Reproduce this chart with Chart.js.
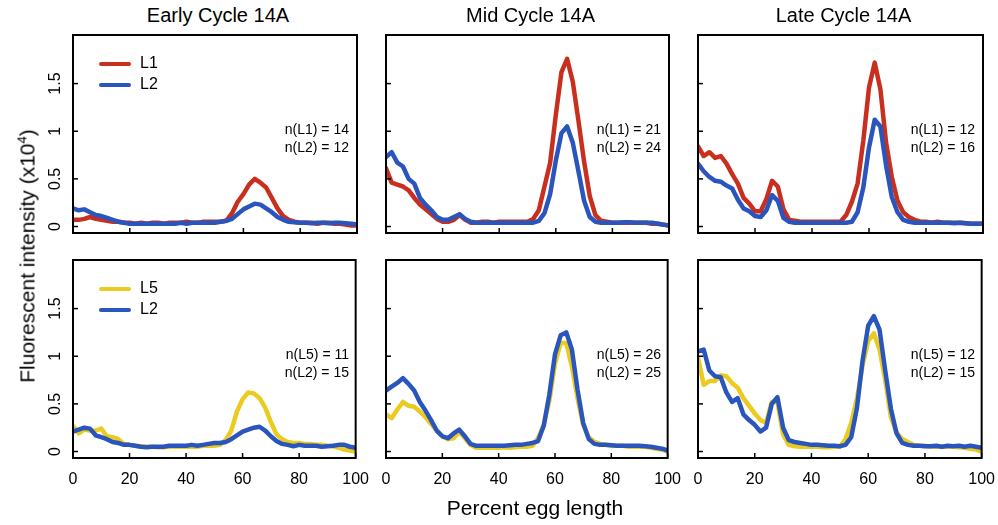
<!DOCTYPE html>
<html>
<head>
<meta charset="utf-8">
<script src="https://cdn.jsdelivr.net/npm/chart.js@4.4.1/dist/chart.umd.min.js"></script>
<style>
body { margin: 0; background: #fff; font-family: "Liberation Sans", Arial, sans-serif; }
#wrap { position: relative; width: 998px; height: 525px; overflow: hidden; }
canvas { position: absolute; }
.txt { position: absolute; white-space: nowrap; color: #000; }
.title { font-size: 20px; transform: translateX(-50%); }
.nlab { font-size: 14px; text-align: right; line-height: 18px; }
.leg { font-size: 16px; line-height: 21px; }
.leg span { display: inline-block; width: 32px; height: 4px; border-radius: 2px; vertical-align: middle; margin-right: 9px; }
</style>
</head>
<body>
<div id="wrap"></div>
<script>
// percent egg length positions
var pos = [0, 2, 4, 6, 8, 10, 12, 14, 16, 18, 20, 22, 24, 26, 28, 30, 32, 34, 36, 38, 40, 42, 44, 46, 48, 50,
    52, 54, 56, 58, 60, 62, 64, 66, 68, 70, 72, 74, 76, 78, 80, 82, 84, 86, 88, 90, 92, 94, 96, 98, 100];

// top row: L1 vs L2
var earlyL1 = [0.07, 0.07, 0.08, 0.10, 0.08, 0.07, 0.06, 0.05, 0.05, 0.04, 0.04, 0.03, 0.04, 0.03, 0.04, 0.04, 0.03, 0.04, 0.04, 0.04, 0.05, 0.04, 0.04, 0.05, 0.05, 0.05,
    0.05, 0.06, 0.14, 0.26, 0.34, 0.44, 0.50, 0.46, 0.41, 0.30, 0.19, 0.11, 0.07, 0.05, 0.04, 0.04, 0.04, 0.03, 0.04, 0.04, 0.03, 0.03, 0.02, 0.01, 0.01];
var earlyL2a = [0.19, 0.17, 0.18, 0.15, 0.12, 0.11, 0.09, 0.07, 0.05, 0.04, 0.03, 0.03, 0.03, 0.03, 0.03, 0.03, 0.03, 0.03, 0.03, 0.04, 0.03, 0.04, 0.04, 0.04, 0.04, 0.04,
    0.05, 0.06, 0.08, 0.13, 0.18, 0.21, 0.24, 0.23, 0.19, 0.15, 0.10, 0.07, 0.05, 0.045, 0.04, 0.04, 0.035, 0.04, 0.04, 0.035, 0.04, 0.04, 0.035, 0.03, 0.02];
var midL1 = [0.61, 0.46, 0.44, 0.42, 0.38, 0.30, 0.23, 0.18, 0.13, 0.08, 0.05, 0.05, 0.07, 0.12, 0.07, 0.04, 0.04, 0.05, 0.05, 0.04, 0.05, 0.05, 0.05, 0.05, 0.05, 0.05,
    0.08, 0.17, 0.42, 0.67, 1.17, 1.62, 1.76, 1.52, 1.11, 0.68, 0.32, 0.12, 0.06, 0.05, 0.04, 0.04, 0.04, 0.04, 0.04, 0.04, 0.04, 0.03, 0.03, 0.02, 0.01];
var midL2a = [0.73, 0.78, 0.67, 0.63, 0.50, 0.45, 0.30, 0.23, 0.17, 0.10, 0.07, 0.07, 0.10, 0.13, 0.08, 0.05, 0.04, 0.04, 0.04, 0.04, 0.04, 0.04, 0.04, 0.04, 0.04, 0.04,
    0.04, 0.06, 0.14, 0.34, 0.69, 0.98, 1.05, 0.88, 0.58, 0.27, 0.10, 0.05, 0.04, 0.04, 0.04, 0.04, 0.045, 0.045, 0.04, 0.04, 0.04, 0.04, 0.03, 0.02, 0.01];
var lateL1 = [0.84, 0.74, 0.78, 0.72, 0.74, 0.66, 0.55, 0.45, 0.30, 0.24, 0.16, 0.16, 0.29, 0.48, 0.42, 0.18, 0.07, 0.06, 0.05, 0.05, 0.05, 0.05, 0.05, 0.05, 0.05, 0.05,
    0.12, 0.26, 0.45, 0.90, 1.46, 1.72, 1.44, 0.88, 0.52, 0.27, 0.15, 0.10, 0.07, 0.05, 0.05, 0.04, 0.05, 0.04, 0.04, 0.04, 0.04, 0.035, 0.03, 0.03, 0.03];
var lateL2a = [0.66, 0.58, 0.52, 0.48, 0.47, 0.43, 0.40, 0.28, 0.19, 0.16, 0.11, 0.10, 0.17, 0.33, 0.27, 0.09, 0.05, 0.04, 0.04, 0.04, 0.04, 0.04, 0.04, 0.04, 0.04, 0.04,
    0.04, 0.05, 0.15, 0.41, 0.83, 1.12, 1.05, 0.64, 0.31, 0.15, 0.07, 0.05, 0.04, 0.04, 0.04, 0.04, 0.04, 0.04, 0.04, 0.035, 0.04, 0.035, 0.03, 0.03, 0.03];

// bottom row: L5 vs L2
var earlyL5 = [0.27, 0.19, 0.23, 0.22, 0.22, 0.24, 0.16, 0.15, 0.13, 0.08, 0.07, 0.06, 0.055, 0.05, 0.05, 0.045, 0.045, 0.05, 0.05, 0.05, 0.05, 0.05, 0.05, 0.06, 0.06, 0.06,
    0.07, 0.12, 0.22, 0.42, 0.55, 0.62, 0.61, 0.56, 0.46, 0.31, 0.18, 0.13, 0.10, 0.09, 0.09, 0.08, 0.08, 0.07, 0.07, 0.06, 0.055, 0.04, 0.02, 0.01, 0.0];
var earlyL2b = [0.21, 0.23, 0.25, 0.24, 0.17, 0.15, 0.13, 0.10, 0.09, 0.07, 0.07, 0.06, 0.05, 0.045, 0.05, 0.05, 0.05, 0.06, 0.06, 0.06, 0.06, 0.07, 0.06, 0.07, 0.08, 0.09,
    0.09, 0.10, 0.13, 0.17, 0.21, 0.23, 0.25, 0.26, 0.22, 0.16, 0.11, 0.08, 0.07, 0.055, 0.07, 0.06, 0.06, 0.06, 0.05, 0.055, 0.06, 0.07, 0.07, 0.05, 0.04];
var midL5 = [0.39, 0.35, 0.44, 0.52, 0.48, 0.47, 0.42, 0.36, 0.29, 0.22, 0.16, 0.13, 0.14, 0.21, 0.14, 0.07, 0.04, 0.04, 0.04, 0.04, 0.04, 0.045, 0.04, 0.045, 0.05, 0.05,
    0.06, 0.14, 0.28, 0.53, 0.92, 1.14, 1.14, 0.89, 0.56, 0.28, 0.15, 0.10, 0.08, 0.07, 0.06, 0.06, 0.06, 0.05, 0.05, 0.05, 0.05, 0.04, 0.03, 0.02, 0.0];
var midL2b = [0.64, 0.68, 0.72, 0.77, 0.71, 0.64, 0.52, 0.43, 0.33, 0.22, 0.16, 0.14, 0.19, 0.23, 0.16, 0.08, 0.06, 0.06, 0.06, 0.06, 0.06, 0.06, 0.065, 0.07, 0.07, 0.08,
    0.09, 0.11, 0.27, 0.60, 1.02, 1.22, 1.25, 1.07, 0.65, 0.30, 0.13, 0.08, 0.07, 0.07, 0.065, 0.06, 0.06, 0.06, 0.06, 0.06, 0.055, 0.05, 0.04, 0.03, 0.01];
var lateL5 = [0.99, 0.70, 0.74, 0.74, 0.80, 0.79, 0.72, 0.67, 0.56, 0.48, 0.40, 0.33, 0.30, 0.52, 0.52, 0.18, 0.07, 0.055, 0.05, 0.05, 0.05, 0.05, 0.045, 0.045, 0.05, 0.05,
    0.13, 0.30, 0.55, 0.90, 1.16, 1.24, 1.07, 0.75, 0.36, 0.20, 0.13, 0.10, 0.07, 0.06, 0.06, 0.05, 0.05, 0.05, 0.05, 0.05, 0.045, 0.04, 0.03, 0.02, 0.0];
var lateL2b = [1.05, 1.07, 0.85, 0.79, 0.78, 0.62, 0.52, 0.56, 0.39, 0.33, 0.28, 0.21, 0.25, 0.50, 0.57, 0.25, 0.12, 0.10, 0.09, 0.08, 0.07, 0.07, 0.065, 0.06, 0.06, 0.056,
    0.07, 0.15, 0.45, 0.95, 1.32, 1.42, 1.28, 0.85, 0.45, 0.19, 0.09, 0.07, 0.06, 0.06, 0.055, 0.055, 0.06, 0.05, 0.06, 0.055, 0.06, 0.05, 0.06, 0.05, 0.04];

var titles = ['Early Cycle 14A', 'Mid Cycle 14A', 'Late Cycle 14A'];
var topNames = ['L1', 'L2'];
var bottomNames = ['L5', 'L2'];
var topCounts = [[14, 12], [21, 24], [12, 16]];
var bottomCounts = [[11, 15], [26, 25], [12, 15]];
var xTicks = [0, 20, 40, 60, 80, 100];
var yTicks = [0, 0.5, 1, 1.5];

var red = '#c92f1f', blue = '#2a55bd', yellow = '#ebcb1f';

var panels = [
    { row: 0, col: 0, series: [earlyL1, earlyL2a], names: topNames, counts: topCounts[0], colors: [red, blue] },
    { row: 0, col: 1, series: [midL1, midL2a], names: topNames, counts: topCounts[1], colors: [red, blue] },
    { row: 0, col: 2, series: [lateL1, lateL2a], names: topNames, counts: topCounts[2], colors: [red, blue] },
    { row: 1, col: 0, series: [earlyL5, earlyL2b], names: bottomNames, counts: bottomCounts[0], colors: [yellow, blue] },
    { row: 1, col: 1, series: [midL5, midL2b], names: bottomNames, counts: bottomCounts[1], colors: [yellow, blue] },
    { row: 1, col: 2, series: [lateL5, lateL2b], names: bottomNames, counts: bottomCounts[2], colors: [yellow, blue] }
];

var boxLeft = [73, 386, 698], boxW = [284, 283, 285];
var boxTop = [35, 260], boxH = 198;
var padL = 60, padT = 6, padR = 24, padB = 45;

// frame + inward tick marks + rotated y labels (first column)
var framePlugin = {
    id: 'frame',
    afterDraw: function (chart) {
        var ctx = chart.ctx, a = chart.chartArea, sx = chart.scales.x, sy = chart.scales.y;
        ctx.save();
        ctx.strokeStyle = '#000';
        ctx.lineWidth = 2;
        ctx.strokeRect(a.left, a.top, a.right - a.left, a.bottom - a.top);
        ctx.lineWidth = 1.5;
        sx.ticks.forEach(function (t) {
            var px = sx.getPixelForValue(t.value);
            ctx.beginPath(); ctx.moveTo(px, a.bottom); ctx.lineTo(px, a.bottom - 5); ctx.stroke();
        });
        sy.ticks.forEach(function (t) {
            var py = sy.getPixelForValue(t.value);
            ctx.beginPath(); ctx.moveTo(a.left, py); ctx.lineTo(a.left + 5, py); ctx.stroke();
        });
        if (chart.options.plugins.frame.yLabels) {
            ctx.fillStyle = '#000';
            ctx.font = '16px "Liberation Sans", Arial, sans-serif';
            ctx.textAlign = 'center';
            ctx.textBaseline = 'middle';
            sy.ticks.forEach(function (t) {
                var py = sy.getPixelForValue(t.value);
                ctx.save();
                ctx.translate(a.left - 17, py);
                ctx.rotate(-Math.PI / 2);
                ctx.fillText(String(t.value), 0, 0);
                ctx.restore();
            });
        }
        ctx.restore();
    }
};

var wrap = document.getElementById('wrap');

function addText(cls, html, left, top) {
    var d = document.createElement('div');
    d.className = 'txt ' + cls;
    d.innerHTML = html;
    d.style.left = left + 'px';
    d.style.top = top + 'px';
    wrap.appendChild(d);
    return d;
}

panels.forEach(function (p) {
    var bl = boxLeft[p.col], bw = boxW[p.col], bt = boxTop[p.row];
    var cv = document.createElement('canvas');
    cv.width = bw + padL + padR;
    cv.height = boxH + padT + padB;
    cv.style.left = (bl - padL) + 'px';
    cv.style.top = (bt - padT) + 'px';
    wrap.appendChild(cv);

    var datasets = p.series.map(function (vals, k) {
        return {
            label: p.names[k],
            data: pos.map(function (x, i) { return { x: x, y: vals[i] }; }),
            borderColor: p.colors[k],
            borderWidth: 4.5,
            pointRadius: 0,
            tension: 0,
            borderJoinStyle: 'round',
            borderCapStyle: 'round',
            order: k === 1 ? 0 : 1
        };
    });

    new Chart(cv.getContext('2d'), {
        type: 'line',
        data: { datasets: datasets },
        options: {
            responsive: false,
            animation: false,
            events: [],
            layout: { padding: { top: padT, right: padR, left: 0, bottom: 0 } },
            plugins: {
                legend: { display: false },
                tooltip: { enabled: false },
                frame: { yLabels: p.col === 0 }
            },
            scales: {
                x: {
                    type: 'linear',
                    min: 0,
                    max: 100,
                    afterBuildTicks: function (s) { s.ticks = xTicks.map(function (v) { return { value: v }; }); },
                    afterFit: function (s) { s.height = padB; },
                    grid: { display: false, drawTicks: false },
                    border: { display: false },
                    ticks: {
                        display: p.row === 1,
                        padding: 12,
                        color: '#000',
                        maxRotation: 0,
                        font: { size: 16, family: '"Liberation Sans", Arial, sans-serif' }
                    }
                },
                y: {
                    min: -0.068,
                    max: 2.01,
                    afterBuildTicks: function (s) { s.ticks = yTicks.map(function (v) { return { value: v }; }); },
                    afterFit: function (s) { s.width = padL; },
                    grid: { display: false, drawTicks: false },
                    border: { display: false },
                    ticks: { display: false }
                }
            }
        },
        plugins: [framePlugin]
    });

    // legend inside the box, top-left (first column only)
    if (p.col === 0) {
        addText('leg', '<div><span style="background:' + p.colors[0] + '"></span>' + p.names[0] + '</div>' +
            '<div><span style="background:' + p.colors[1] + '"></span>' + p.names[1] + '</div>', bl + 26, bt + 17);
    }

    // sample counts
    var n = addText('nlab', 'n(' + p.names[0] + ') = ' + p.counts[0] + '<br>n(' + p.names[1] + ') = ' + p.counts[1], 0, bt + 85);
    n.style.left = 'auto';
    n.style.right = (998 - (bl + bw - 8)) + 'px';

    if (p.row === 0) addText('title', titles[p.col], bl + bw / 2 + 3, 4);
});

addText('', 'Percent egg length', 535, 496).style.cssText += 'font-size:21px;transform:translateX(-50%);';
var yt = addText('', 'Fluorescent intensity (x10<sup style="font-size:13px">4</sup>)', 27, 256);
yt.style.cssText += 'font-size:21px;transform:translate(-50%,-50%) rotate(-90deg);';
</script>
</body>
</html>
